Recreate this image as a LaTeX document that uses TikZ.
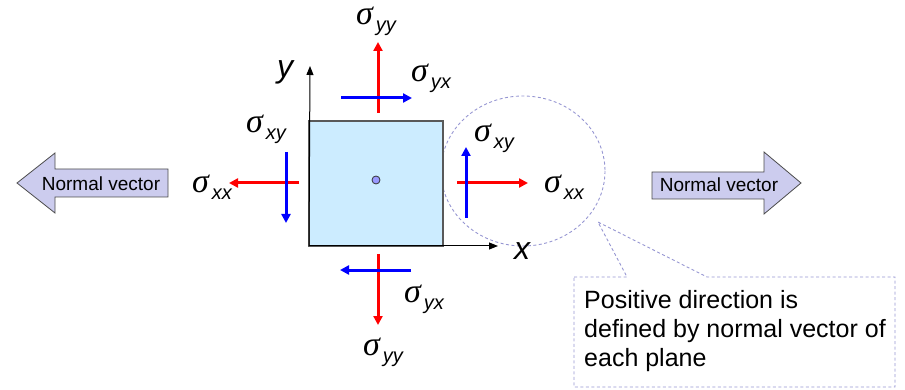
\documentclass[tikz,border=0pt]{standalone}
\usepackage{fontspec}
\setmainfont{Liberation Sans}
\newfontfamily\symfont{Liberation Serif}
\usetikzlibrary{arrows.meta}

\definecolor{lavender}{RGB}{204,204,238}
\definecolor{dashcol}{RGB}{150,150,210}
\definecolor{planefill}{RGB}{204,236,255}
\definecolor{dotfill}{RGB}{153,153,255}

\newcommand{\stress}[1]{{\fontsize{34}{34}\selectfont\symfont\itshape σ}\raisebox{-7pt}{\fontsize{20}{20}\selectfont\itshape\kern3pt#1}}

\begin{document}
\begin{tikzpicture}[x=1pt,y=-1pt,
    stressarrow/.style={line width=3pt,-{Triangle[length=9pt,width=9pt]}},
    axisarrow/.style={line width=1pt,-{Triangle[length=9pt,width=7pt]}},
    siglabel/.style={anchor=base west,inner sep=0pt},
    normalarrow/.style={draw=black!70,line width=0.8pt,fill=lavender},
    dashline/.style={draw=dashcol,line width=0.9pt,dash pattern=on 3pt off 2.5pt}]
  \useasboundingbox (0,0) rectangle (905,390);

  % plane and axes
  \coordinate (O) at (309,246);
  \coordinate (C) at (376,180);
  \draw[dashline] (523,171) ellipse [x radius=82, y radius=75];
  \draw[fill=planefill,draw=black!65,line width=1.5pt] (309,121) rectangle (443,246);
  \draw[fill=dotfill,draw=black!80,line width=0.8pt] (C) circle (4);
  \draw[axisarrow] (O) -- (310,66);
  \draw[axisarrow] (O) -- (498,246);
  \node[siglabel] (ylab) at (277,78) {\fontsize{32}{32}\selectfont\itshape y};
  \node[siglabel] (xlab) at (514,259) {\fontsize{32}{32}\selectfont\itshape x};

  % top plane
  \draw[stressarrow,red] (378,113) -- (378,42);
  \draw[stressarrow,blue] (341,98) -- (412,98);
  \node[siglabel] (syyT) at (356,25) {\stress{yy}};
  \node[siglabel] (syxT) at (411,82) {\stress{yx}};

  % bottom plane
  \draw[stressarrow,red] (378,254) -- (378,325);
  \draw[stressarrow,blue] (411,270) -- (340,270);
  \node[siglabel] (syxB) at (404,302) {\stress{yx}};
  \node[siglabel] (syyB) at (363,355) {\stress{yy}};

  % left plane
  \draw[stressarrow,red] (299,183) -- (229,183);
  \draw[stressarrow,blue] (286,152) -- (286,223);
  \node[siglabel] (sxyL) at (246,133) {\stress{xy}};
  \node[siglabel] (sxxL) at (192,193) {\stress{xx}};

  % right plane
  \draw[stressarrow,red] (457,183) -- (528,183);
  \draw[stressarrow,blue] (466,218) -- (466,147);
  \node[siglabel] (sxyR) at (474,142) {\stress{xy}};
  \node[siglabel] (sxxR) at (544,193) {\stress{xx}};

  % normal vectors
  \draw[normalarrow] (17,183) -- (55,153) -- (55,169) -- (168,169) -- (168,197)
    -- (55,197) -- (55,213) -- cycle;
  \node (nvL) at (101,184) {\fontsize{19}{22}\selectfont Normal vector};
  \draw[normalarrow] (801,183) -- (764,152) -- (764,172) -- (652,172) -- (652,199)
    -- (764,199) -- (764,214) -- cycle;
  \node (nvR) at (719,185) {\fontsize{19}{22}\selectfont Normal vector};

  % callout
  \draw[dashline] (574,277) -- (627,277) -- (598,222) -- (707,277) -- (895,277)
    -- (895,387) -- (574,387) -- cycle;
  \node[anchor=west,align=left,inner sep=0pt,font=\fontsize{25}{29}\selectfont]
    (note) at (584,331) {Positive direction is\\
     defined by normal vector of\\ each plane};
\end{tikzpicture}
\end{document}
